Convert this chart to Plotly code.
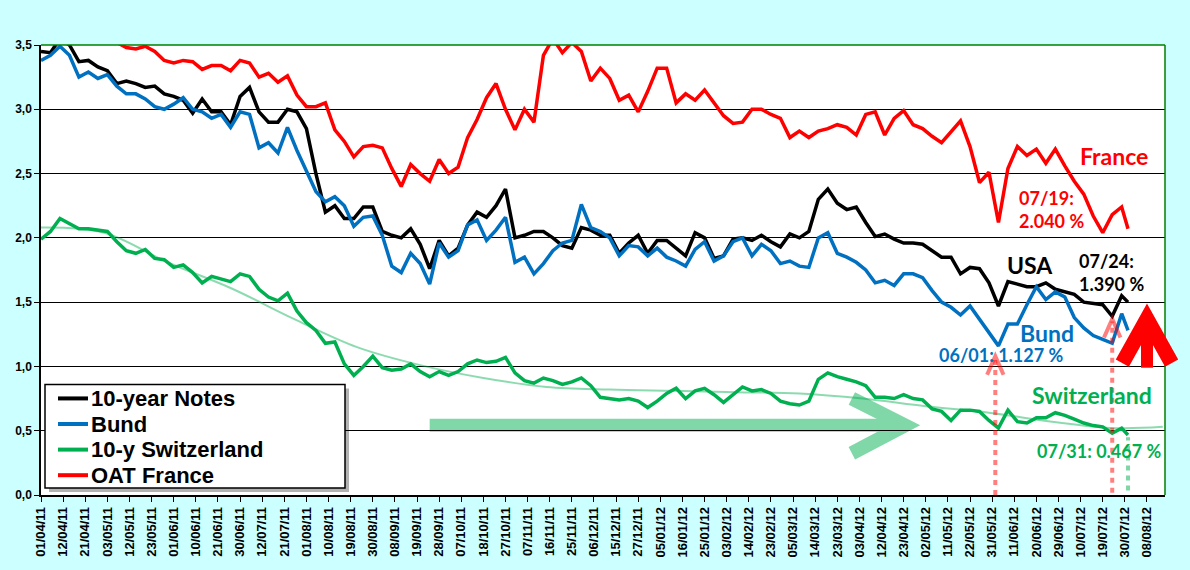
import pandas as pd
import plotly.graph_objects as go

# trading days on the category axis (the sheet skipped these three holidays)
HOLIDAYS = ["2011-04-22", "2011-07-04", "2011-12-26"]
days = pd.bdate_range("2011-04-01", "2012-08-17", freq="C", holidays=HOLIDAYS)

# values every 3rd trading day, plus the last one (31/07/12)
read_idx = list(range(0, 343, 3)) + [344]

us_notes = [
    3.45, 3.44, 3.55, 3.50, 3.37, 3.38, 3.33, 3.30, 3.20, 3.22,
    3.20, 3.17, 3.18, 3.12, 3.10, 3.07, 2.97, 3.08, 2.98, 2.98,
    2.88, 3.10, 3.17, 2.98, 2.90, 2.90, 3.00, 2.98, 2.85, 2.50,
    2.20, 2.25, 2.15, 2.15, 2.24, 2.24, 2.05, 2.02, 2.00, 2.07,
    1.95, 1.76, 1.98, 1.86, 1.92, 2.10, 2.20, 2.16, 2.25, 2.38,
    2.00, 2.02, 2.05, 2.05, 2.00, 1.94, 1.92, 2.08, 2.06, 2.02,
    2.02, 1.88, 1.96, 2.02, 1.88, 1.98, 1.98, 1.92, 1.86, 2.04,
    2.00, 1.84, 1.86, 1.99, 2.00, 1.98, 2.02, 1.97, 1.93, 2.03,
    2.00, 2.05, 2.30, 2.38, 2.27, 2.22, 2.24, 2.12, 2.01, 2.03,
    1.99, 1.96, 1.96, 1.95, 1.90, 1.85, 1.85, 1.72, 1.77, 1.76,
    1.65, 1.47, 1.66, 1.64, 1.62, 1.62, 1.65, 1.60, 1.58, 1.56,
    1.50, 1.49, 1.48, 1.39, 1.55,
    1.50,
]
bund = [
    3.38, 3.42, 3.49, 3.42, 3.25, 3.29, 3.24, 3.27, 3.18, 3.12,
    3.12, 3.08, 3.02, 3.00, 3.04, 3.09, 3.00, 2.98, 2.93, 2.96,
    2.86, 2.98, 2.96, 2.70, 2.74, 2.66, 2.86, 2.68, 2.52, 2.36,
    2.28, 2.32, 2.25, 2.09, 2.16, 2.17, 2.02, 1.78, 1.73, 1.88,
    1.80, 1.64, 1.96, 1.85, 1.90, 2.10, 2.14, 1.98, 2.06, 2.16,
    1.81, 1.85, 1.72, 1.80, 1.90, 1.96, 1.98, 2.26, 2.08, 2.05,
    2.00, 1.86, 1.94, 1.93, 1.86, 1.92, 1.85, 1.82, 1.78, 1.91,
    1.97, 1.82, 1.86, 1.97, 2.00, 1.86, 1.95, 1.90, 1.80, 1.82,
    1.78, 1.77, 2.00, 2.04, 1.88, 1.85, 1.81, 1.75, 1.65, 1.67,
    1.63, 1.72, 1.72, 1.69, 1.59, 1.50, 1.46, 1.40, 1.47, 1.37,
    1.27, 1.16, 1.33, 1.33, 1.48, 1.62, 1.52, 1.58, 1.54, 1.38,
    1.30, 1.24, 1.21, 1.18, 1.41,
    1.28,
]
swiss = [
    1.99, 2.05, 2.15, 2.11, 2.07, 2.07, 2.06, 2.05, 1.97, 1.90,
    1.88, 1.91, 1.84, 1.83, 1.77, 1.79, 1.73, 1.65, 1.70, 1.68,
    1.66, 1.72, 1.70, 1.60, 1.54, 1.51, 1.57, 1.43, 1.34, 1.28,
    1.18, 1.19, 1.02, 0.93, 1.00, 1.08, 0.99, 0.97, 0.98, 1.02,
    0.96, 0.92, 0.96, 0.93, 0.96, 1.02, 1.05, 1.03, 1.04, 1.07,
    0.95, 0.89, 0.87, 0.91, 0.89, 0.86, 0.88, 0.91, 0.85, 0.76,
    0.75, 0.74, 0.75, 0.73, 0.68, 0.73, 0.79, 0.83, 0.75, 0.81,
    0.83, 0.78, 0.72, 0.78, 0.84, 0.81, 0.82, 0.79, 0.73, 0.71,
    0.70, 0.73, 0.90, 0.95, 0.92, 0.90, 0.88, 0.85, 0.76, 0.76,
    0.75, 0.78, 0.75, 0.74, 0.67, 0.65, 0.58, 0.66, 0.66, 0.65,
    0.58, 0.52, 0.66, 0.57, 0.56, 0.60, 0.60, 0.64, 0.62, 0.59,
    0.56, 0.54, 0.53, 0.48, 0.52,
    0.467,
]
oat_france = [
    3.70, 3.68, 3.72, 3.66, 3.64, 3.62, 3.60, 3.56, 3.52, 3.48,
    3.47, 3.49, 3.45, 3.38, 3.36, 3.38, 3.37, 3.31, 3.34, 3.34,
    3.30, 3.38, 3.36, 3.25, 3.28, 3.21, 3.26, 3.11, 3.02, 3.02,
    3.05, 2.84, 2.75, 2.63, 2.71, 2.72, 2.70, 2.54, 2.40, 2.57,
    2.50, 2.44, 2.61, 2.50, 2.55, 2.78, 2.92, 3.09, 3.20, 3.00,
    2.84, 3.00, 2.90, 3.42, 3.55, 3.44, 3.52, 3.45, 3.22, 3.32,
    3.24, 3.07, 3.11, 2.98, 3.14, 3.32, 3.32, 3.05, 3.12, 3.07,
    3.15, 3.05, 2.95, 2.89, 2.90, 3.00, 3.00, 2.96, 2.93, 2.78,
    2.83, 2.78, 2.83, 2.85, 2.88, 2.86, 2.80, 2.96, 2.98, 2.80,
    2.93, 2.99, 2.88, 2.85, 2.79, 2.74, 2.82, 2.91, 2.71, 2.43,
    2.51, 2.12, 2.54, 2.71, 2.64, 2.69, 2.58, 2.69, 2.56, 2.44,
    2.34, 2.17, 2.04, 2.18, 2.24,
    2.07,
]

# light trend curve over the Swiss yields
trend_idx = [0, 20, 40, 60, 80, 100, 120, 140, 160, 180, 200, 220, 240, 260, 280, 300, 320, 340, 355]
trend_swiss = [2.08, 2.04, 1.81, 1.61, 1.37, 1.15, 1.01, 0.91, 0.84, 0.82, 0.81, 0.80, 0.79, 0.75,
               0.69, 0.64, 0.57, 0.52, 0.53]

series_names = ["10-year Notes", "Bund", "10-y Switzerland", "OAT France"]

tick_days = days[:351:7]
tick_text = [d.strftime("%d/%m/%y") for d in tick_days]
y_ticks = [0, 0.5, 1.0, 1.5, 2.0, 2.5, 3.0, 3.5]
y_text = ["0,0", "0,5", "1,0", "1,5", "2,0", "2,5", "3,0", "3,5"]

BLACK = "#000000"
BLUE = "#0070C0"
GREEN = "#00B050"
RED = "#FF0000"
PINK = "rgba(255,0,0,0.5)"
SOFT_GREEN = "rgba(0,176,80,0.5)"
LIGHT_GREEN = "#80D8A8"
colors = [BLACK, BLUE, GREEN, RED]

X_END = 355.7  # axis length in trading days
Y_MAX = 3.5
L, T, W, H = 41, 45, 1124, 452  # plot area in the 1190x570 page


def xp(i):
    return i / X_END


def px(x, y):
    return (x - L) / W, (T + H - y) / H


x = days[read_idx]

fig = go.Figure()
fig.add_trace(go.Scatter(x=days[trend_idx], y=trend_swiss, mode="lines",
                         line=dict(color="rgba(0,176,80,0.45)", width=2, shape="spline"),
                         hoverinfo="skip"))
for name, vals, color in zip(series_names, [us_notes, bund, swiss, oat_france], colors):
    fig.add_trace(go.Scatter(x=x, y=vals, mode="lines", name=name,
                             line=dict(color=color, width=3.5)))

shapes = []
annotations = []

# legend drawn by hand: frame, shadow, line samples and names
x0, y0 = px(49, 390)
x1, y1 = px(349, 494)
shapes.append(dict(type="rect", xref="paper", yref="paper", x0=x0, y0=y0, x1=x1, y1=y1,
                   fillcolor="rgba(0,0,0,0.3)", line=dict(width=0), layer="above"))
x0, y0 = px(45, 386)
x1, y1 = px(345, 490)
shapes.append(dict(type="rect", xref="paper", yref="paper", x0=x0, y0=y0, x1=x1, y1=y1,
                   fillcolor="white", line=dict(color="black", width=1.5), layer="above"))
for k, (name, color) in enumerate(zip(series_names, colors)):
    row_y = 400 + k * 25.7
    lx0, ly = px(58, row_y)
    lx1, _ = px(88, row_y)
    shapes.append(dict(type="line", xref="paper", yref="paper", x0=lx0, x1=lx1, y0=ly, y1=ly,
                       line=dict(color=color, width=4), layer="above"))
    tx, _ = px(89, row_y)
    annotations.append(dict(text=name, xref="paper", yref="paper", x=tx, y=ly, xanchor="left",
                            yanchor="middle", showarrow=False,
                            font=dict(family="Liberation Sans, Arial", size=22, color="black",
                                      weight="bold")))

# green frame on top and right
shapes.append(dict(type="line", xref="paper", yref="paper", x0=0, x1=1, y0=1, y1=1,
                   line=dict(color="#008000", width=1.5), layer="above"))
shapes.append(dict(type="line", xref="paper", yref="paper", x0=1, x1=1, y0=0, y1=1,
                   line=dict(color="#008000", width=1.5), layer="above"))

# big green arrow to the right
shapes.append(dict(type="line", xref="paper", yref="y", x0=xp(123), x1=xp(269.5), y0=0.542, y1=0.542,
                   line=dict(color=LIGHT_GREEN, width=13), layer="below"))
shapes.append(dict(type="path", xref="paper", yref="y",
                   path=f"M{xp(256.6)},0.751 L{xp(273.4)},0.542 L{xp(256.6)},0.325",
                   line=dict(color=LIGHT_GREEN, width=14), layer="below"))

# big red arrow up
shapes.append(dict(type="path", xref="paper", yref="y",
                   path=f"M{xp(342.2)},1.025 L{xp(350)},1.370 L{xp(357.8)},1.025",
                   line=dict(color=RED, width=15), layer="above"))
shapes.append(dict(type="rect", xref="paper", yref="y", x0=xp(348.1), x1=xp(351.9), y0=0.99, y1=1.30,
                   fillcolor=RED, line=dict(width=0), layer="above"))

# dotted markers at 06/01, 07/24 (with arrow heads) and 07/31
for i, top, bottom, c, head in [(302, 1.06, 0.0, PINK, True), (339, 1.35, -0.06, PINK, True),
                                (344, 0.45, -0.12, SOFT_GREEN, False)]:
    shapes.append(dict(type="line", xref="paper", yref="y", x0=xp(i), x1=xp(i), y0=bottom, y1=top,
                       line=dict(color=c, width=4, dash="5px,5px"), layer="above"))
    if head:
        shapes.append(dict(type="path", xref="paper", yref="y",
                           path=f"M{xp(i - 2.6)},{top - 0.125} L{xp(i)},{top + 0.02} L{xp(i + 2.6)},{top - 0.125}",
                           line=dict(color=c, width=4), layer="above"))

labels = [
    ("France", 339.6, 2.633, "center", 23, RED),
    ("07/19:<br>2.040 %", 309.0, 2.22, "left", 18, RED),
    ("USA", 313.0, 1.789, "center", 23, BLACK),
    ("07/24:<br>1.390 %", 327.8, 1.727, "left", 18, BLACK),
    ("Bund", 318.4, 1.262, "center", 23, BLUE),
    ("06/01: 1.127 %", 304.1, 1.088, "center", 18, BLUE),
    ("Switzerland", 332.6, 0.774, "center", 23, GREEN),
    ("07/31: 0.467 %", 335.1, 0.341, "center", 18, GREEN),
]
for t, i, v, a, s, c in labels:
    annotations.append(dict(text=t, xref="paper", yref="y", x=xp(i), y=v, xanchor=a, yanchor="middle",
                            align="left", showarrow=False,
                            font=dict(family="Lato, Noto Sans", size=s, color=c, weight="bold")))

axis_font = dict(family="Liberation Sans, Arial", size=12, color="black", weight="bold")

fig.update_layout(
    width=1190, height=570,
    margin=dict(l=L, r=1190 - L - W, t=T, b=570 - T - H),
    paper_bgcolor="#CCFFFF", plot_bgcolor="white",
    shapes=shapes, annotations=annotations,
    showlegend=False,
    xaxis=dict(type="date", range=[days[0], days[355] + pd.Timedelta(hours=17)],
               rangebreaks=[dict(bounds=["sat", "mon"]), dict(values=HOLIDAYS)],
               tickvals=list(tick_days), ticktext=tick_text, tickangle=-90,
               tickfont=dict(axis_font, size=13), ticks="outside", ticklen=5, tickcolor="black",
               showline=True, linecolor="black", linewidth=1.5, showgrid=False, zeroline=False),
    yaxis=dict(range=[0, Y_MAX], tickvals=y_ticks, ticktext=y_text, tickfont=axis_font,
               ticks="outside", ticklen=5, tickcolor="black",
               showline=True, linecolor="black", linewidth=1.5,
               showgrid=True, gridcolor="black", gridwidth=1, zeroline=False),
)

# the page's default body margin would push the figure 8px off the window corner
fig.write_html("out.html", config={"displayModeBar": False},
               post_script="document.body.style.margin='0';document.body.style.overflow='hidden';")
